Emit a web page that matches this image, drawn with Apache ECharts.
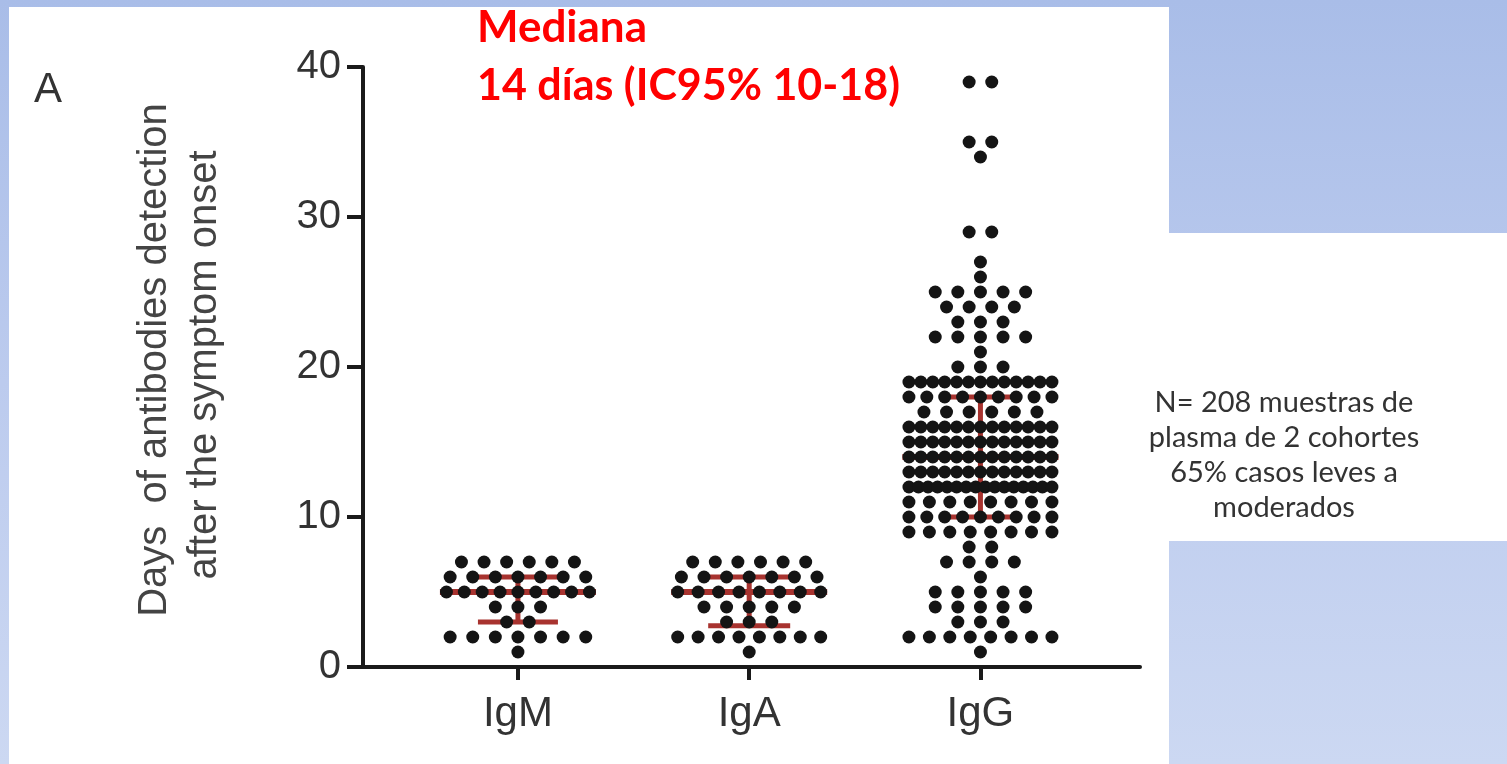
<!DOCTYPE html>
<html>
<head>
<meta charset="utf-8">
<script src="https://cdn.jsdelivr.net/npm/echarts@6/dist/echarts.min.js"></script>
<style>
  html, body { margin:0; padding:0; width:1507px; height:764px; overflow:hidden; }
  body { background: linear-gradient(to bottom, #a9bde8 0%, #bccbee 50%, #ccd8f2 100%); position:relative; }
  #panel { position:absolute; left:9px; top:7px; width:1160px; height:757px; background:#fff; }
  #box { position:absolute; left:1169px; top:233px; width:338px; height:308px; background:#fff; }
  #chart { position:absolute; left:0; top:0; width:1507px; height:764px; }
</style>
</head>
<body>
<div id="panel"></div>
<div id="box"></div>
<div id="chart"></div>
<script>
// ---- data ----
const categories = ['IgM', 'IgA', 'IgG'];
const daysIgM = [1, 2, 3, 4, 5, 6, 7];
const countIgM = [1, 7, 2, 3, 9, 7, 6];
const daysIgA = [1, 2, 3, 4, 5, 6, 7];
const countIgA = [1, 8, 3, 5, 8, 7, 6];
const daysIgG = [1, 2, 3, 4, 5, 6, 7, 8, 9, 10, 11, 12, 13, 14, 15, 16, 17, 18, 19, 20, 21, 22, 23, 24, 25, 26, 27, 29, 34, 35, 39];
const countIgG = [1, 8, 3, 5, 5, 1, 4, 2, 8, 9, 8, 16, 13, 13, 13, 13, 6, 9, 13, 3, 1, 5, 3, 4, 5, 1, 1, 2, 1, 2, 2];
const medians = [5, 5, 14];
const q1 = [3, 2.75, 10];
const q3 = [6, 6, 18];
const yTicks = [0, 10, 20, 30, 40];

// ---- layout helpers (styles) ----
const X_MIN = 0.33, X_MAX = 3.69;
const PLOT_W = 777;
const pxPerUnit = PLOT_W / (X_MAX - X_MIN);
const DOT_GAP = 22.6;   // px between neighbouring dots
const ROW_MAX = 143;    // px max row width (centre to centre)
const capHalf = [40, 41, 31];
const medHalf = 78;

function swarm(catIdx, days, counts) {
  const pts = [];
  days.forEach((d, k) => {
    const n = counts[k];
    const gap = n > 1 ? Math.min(DOT_GAP, ROW_MAX / (n - 1)) : 0;
    for (let i = 0; i < n; i++) {
      const off = (i - (n - 1) / 2) * gap / pxPerUnit;
      pts.push([catIdx + 1 + off, d]);
    }
  });
  return pts;
}
const allDots = []
  .concat(swarm(0, daysIgM, countIgM))
  .concat(swarm(1, daysIgA, countIgA))
  .concat(swarm(2, daysIgG, countIgG));

const statData = categories.map((c, i) => [i + 1, medians[i], q1[i], q3[i], capHalf[i]]);

const chart = echarts.init(document.getElementById('chart'), null, { renderer: 'canvas' });
const RED = '#a8332f';
const SANS = 'Liberation Sans, Arial, sans-serif';
chart.setOption({
  backgroundColor: 'transparent',
  animation: false,
  grid: { left: 363, top: 67, width: PLOT_W, height: 600, containLabel: false },
  xAxis: {
    type: 'value', min: X_MIN, max: X_MAX,
    splitLine: { show: false },
    axisLine: { show: true, onZero: false, lineStyle: { color: '#1a1a1a', width: 4 } },
    axisTick: { show: true, length: 13, customValues: [1, 2, 3], lineStyle: { color: '#1a1a1a', width: 4 } },
    axisLabel: {
      customValues: [1, 2, 3], margin: 26,
      formatter: v => categories[Math.round(v) - 1] || '',
      fontFamily: SANS, fontSize: 42, color: '#333'
    }
  },
  yAxis: {
    type: 'value', min: 0, max: 40, interval: 10,
    splitLine: { show: false },
    axisLine: { show: true, lineStyle: { color: '#1a1a1a', width: 4 } },
    axisTick: { show: true, length: 16, lineStyle: { color: '#1a1a1a', width: 4 } },
    axisLabel: {
      margin: 22, fontFamily: SANS, fontSize: 40, color: '#333',
      formatter: v => yTicks.includes(v) ? String(v) : ''
    }
  },
  series: [
    {
      type: 'custom',
      z: 1,
      data: statData,
      renderItem: function (params, api) {
        const x = api.value(0), med = api.value(1), lo = api.value(2), hi = api.value(3), ch = api.value(4);
        const pm = api.coord([x, med]), pl = api.coord([x, lo]), ph = api.coord([x, hi]);
        const ls = { stroke: RED, lineWidth: 5 };
        return {
          type: 'group',
          children: [
            { type: 'line', shape: { x1: pm[0] - medHalf, y1: pm[1], x2: pm[0] + medHalf, y2: pm[1] }, style: { stroke: RED, lineWidth: 6 } },
            { type: 'line', shape: { x1: pl[0], y1: pl[1], x2: ph[0], y2: ph[1] }, style: ls },
            { type: 'line', shape: { x1: pl[0] - ch, y1: pl[1], x2: pl[0] + ch, y2: pl[1] }, style: ls },
            { type: 'line', shape: { x1: ph[0] - ch, y1: ph[1], x2: ph[0] + ch, y2: ph[1] }, style: ls }
          ]
        };
      }
    },
    {
      type: 'scatter',
      z: 3,
      symbol: 'circle',
      symbolSize: 13,
      itemStyle: { color: '#141414', opacity: 1 },
      data: allDots
    }
  ],
  graphic: [
    { type: 'text', x: 34, y: 90,
      style: { text: 'A', x: 0, y: 0, align: 'left', verticalAlign: 'middle', fontFamily: SANS, fontSize: 42, fill: '#333' } },
    { type: 'text', x: 155, y: 360, rotation: Math.PI / 2,
      style: { text: 'Days  of antibodies detection', x: 0, y: 0, align: 'center', verticalAlign: 'middle', fontFamily: SANS, fontSize: 40, fill: '#444' } },
    { type: 'text', x: 205, y: 365, rotation: Math.PI / 2,
      style: { text: 'after the symptom onset', x: 0, y: 0, align: 'center', verticalAlign: 'middle', fontFamily: SANS, fontSize: 40, fill: '#444' } },
    { type: 'text', x: 477, y: 28,
      style: { text: 'Mediana', x: 0, y: 0, align: 'left', verticalAlign: 'middle', fontFamily: 'Lato, Open Sans, sans-serif', fontWeight: 'bold', fontSize: 44, fill: '#ff0000' } },
    { type: 'text', x: 477, y: 86,
      style: { text: '14 días (IC95% 10-18)', x: 0, y: 0, align: 'left', verticalAlign: 'middle', fontFamily: 'Lato, Open Sans, sans-serif', fontWeight: 'bold', fontSize: 43, fill: '#ff0000' } },
    { type: 'text', x: 1284, y: 455,
      style: { text: 'N= 208 muestras de\nplasma de 2 cohortes\n65% casos leves a\nmoderados', x: 0, y: 0, align: 'center', verticalAlign: 'middle', lineHeight: 35, fontFamily: 'Lato, Open Sans, sans-serif', fontSize: 29, fill: '#333' } }
  ]
});
</script>
</body>
</html>
